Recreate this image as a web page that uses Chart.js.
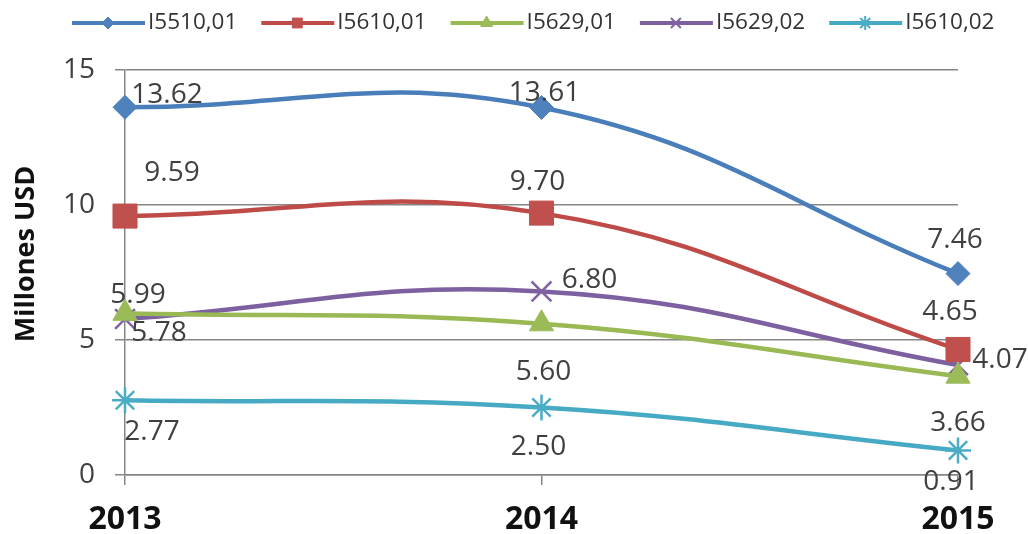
<!DOCTYPE html>
<html><head><meta charset="utf-8">
<script src="https://cdn.jsdelivr.net/npm/chart.js@4/dist/chart.umd.min.js"></script>
<style>html,body{margin:0;padding:0;background:#fff;}#wrap{width:1028px;height:534px;}</style>
</head><body><div id="wrap"><canvas id="c" width="1028" height="534"></canvas></div>
<script>
// ---- data ----
const categories = ['2013', '2014', '2015'];
const seriesNames = ['I5510,01', 'I5610,01', 'I5629,01', 'I5629,02', 'I5610,02'];
const s5510_01 = [13.62, 13.61, 7.46];
const s5610_01 = [9.59, 9.70, 4.65];
const s5629_01 = [5.99, 5.60, 3.66];
const s5629_02 = [5.78, 6.80, 4.07];
const s5610_02 = [2.77, 2.50, 0.91];
const yTicks = [0, 5, 10, 15];
const yTitle = 'Millones USD';

// ---- styles ----
const lineColors = ['#4a7ebb', '#be4b48', '#98b954', '#7d60a0', '#46aac5'];
const markColors = ['#4f81bd', '#c0504d', '#9bbb59', '#8064a2', '#4bacc6'];
const pStyles = ['rectRot', 'rect', 'triangle', 'crossRot', 'star'];
const pRadius = [12, 17, 14, 14, 13];
const pBorder = [1, 1, 1, 2.5, 2.5];
const legendRadius = [6, 7, 7, 7, 7];
const labelOffsets = [
  [[42, -12], [3, -14], [-3, -34]],
  [[47, -43], [-4, -31], [-8, -37]],
  [[13, -18], [2, 48], [0, 47]],
  [[34, 14], [48, -11], [42, -5]],
  [[27, 32], [-3, 40], [-7, 32]]
];
const FONT = "'Open Sans', 'DejaVu Sans', sans-serif";
Chart.defaults.font.family = FONT;

const seriesValues = [s5510_01, s5610_01, s5629_01, s5629_02, s5610_02];
const datasets = seriesValues.map((vals, i) => ({
  label: seriesNames[i],
  data: vals,
  borderColor: lineColors[i],
  backgroundColor: markColors[i],
  borderWidth: 4.5,
  tension: 0.42,
  pointStyle: pStyles[i],
  pointRadius: pRadius[i],
  pointBackgroundColor: markColors[i],
  pointBorderColor: markColors[i],
  pointBorderWidth: pBorder[i],
  clip: false
}));

function drawMarker(ctx, style, r, bw, x, y) {
  if (Chart.helpers && Chart.helpers.drawPoint) {
    Chart.helpers.drawPoint(ctx, {pointStyle: style, radius: r, borderWidth: bw, rotation: 0}, x, y);
  }
}

const customLegend = {
  id: 'customLegend',
  afterDraw(chart) {
    const ctx = chart.ctx;
    ctx.save();
    ctx.font = '22.5px ' + FONT;
    ctx.textBaseline = 'middle';
    ctx.textAlign = 'left';
    let x = 72;
    const y = 23;
    seriesNames.forEach((name, i) => {
      ctx.strokeStyle = lineColors[i];
      ctx.lineWidth = 4;
      ctx.beginPath();
      ctx.moveTo(x, y); ctx.lineTo(x + 73, y);
      ctx.stroke();
      ctx.fillStyle = markColors[i];
      ctx.strokeStyle = markColors[i];
      ctx.lineWidth = pBorder[i] > 1 ? 2 : 1;
      drawMarker(ctx, pStyles[i], legendRadius[i], 1, x + 36, y);
      ctx.fillStyle = '#333';
      ctx.fillText(name, x + 76, y);
      const w = ctx.measureText(name).width;
      x = x + 76 + w + 24;
    });
    ctx.restore();
  }
};

const yTitlePlugin = {
  id: 'yTitlePlugin',
  afterDraw(chart) {
    const ctx = chart.ctx;
    ctx.save();
    ctx.font = 'bold 27px ' + FONT;
    ctx.fillStyle = '#111';
    ctx.textAlign = 'center';
    ctx.textBaseline = 'middle';
    ctx.translate(26, 254);
    ctx.rotate(-Math.PI / 2);
    ctx.fillText(yTitle, 0, 0);
    ctx.restore();
  }
};

const dataLabels = {
  id: 'dataLabels',
  afterDatasetsDraw(chart) {
    const ctx = chart.ctx;
    ctx.save();
    ctx.font = '28px ' + FONT;
    ctx.fillStyle = '#404040';
    ctx.textAlign = 'center';
    ctx.textBaseline = 'middle';
    chart.data.datasets.forEach((ds, i) => {
      const meta = chart.getDatasetMeta(i);
      meta.data.forEach((pt, j) => {
        const off = labelOffsets[i][j];
        ctx.fillText(ds.data[j].toFixed(2), pt.x + off[0], pt.y + off[1]);
      });
    });
    ctx.restore();
  }
};

new Chart(document.getElementById('c'), {
  type: 'line',
  data: {labels: categories, datasets},
  options: {
    responsive: false,
    animation: false,
    layout: {padding: {top: 70, right: 70, left: 0, bottom: 0}},
    plugins: {legend: {display: false}, tooltip: {enabled: false}},
    scales: {
      x: {
        offset: false,
        grid: {display: true, drawOnChartArea: false, drawTicks: true, tickLength: 10, color: '#868686', lineWidth: 1.5},
        border: {display: true, color: '#868686', width: 1.5},
        ticks: {font: {size: 32, weight: 'bold'}, color: '#111', padding: 16, maxRotation: 0},
        afterFit: s => { s.height = 59; }
      },
      y: {
        min: 0, max: 15,
        afterBuildTicks: s => { s.ticks = yTicks.map(v => ({value: v})); },
        grid: {color: '#868686', lineWidth: 1.5, tickLength: 10},
        border: {display: true, color: '#868686', width: 1.5},
        ticks: {font: {size: 28}, color: '#404040', padding: 20},
        afterFit: s => { s.width = 125; }
      }
    }
  },
  plugins: [dataLabels, customLegend, yTitlePlugin]
});
</script>
</body></html>
